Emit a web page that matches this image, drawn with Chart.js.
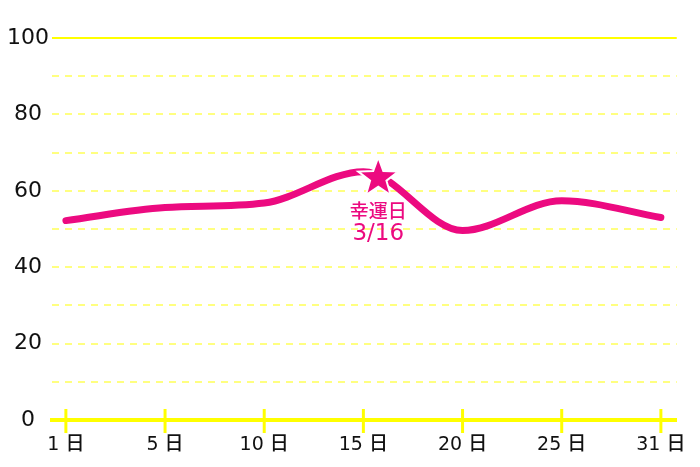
<!DOCTYPE html>
<html>
<head>
<meta charset="utf-8">
<script src="https://cdn.jsdelivr.net/npm/chart.js@4.4.1/dist/chart.umd.min.js"></script>
<style>
  html, body { margin: 0; padding: 0; background: #fff; }
  #wrap { width: 700px; height: 467px; }
</style>
</head>
<body>
<div id="wrap"><canvas id="lineChart"></canvas></div>
<script>
const dayLabels = ['1 日', '5 日', '10 日', '15 日', '20 日', '25 日', '31 日'];
const fortune = [52.2, 55.6, 56.8, 65.0, 49.6, 57.4, 53.0];
const luckyPos = [3.15];      // between 15日 and 20日 (3/16)
const luckyValue = [63.6];
const luckyText = ['幸運日', '3/16'];

const PINK = '#ec0a80';
const YELLOW = '#ffff00';
const FONT = '"DejaVu Sans", "Noto Sans CJK JP", sans-serif';

const extras = {
    id: 'extras',
    afterDatasetsDraw(chart) {
        const ctx = chart.ctx;
        const x = chart.scales.x;
        const bottom = chart.chartArea.bottom;
        ctx.save();
        // tick marks crossing the base line
        ctx.strokeStyle = YELLOW;
        ctx.lineWidth = 3;
        x.ticks.forEach(t => {
            const px = x.getPixelForValue(t.value);
            ctx.beginPath();
            ctx.moveTo(px, bottom - 11);
            ctx.lineTo(px, bottom + 13);
            ctx.stroke();
        });
        // star + label for the lucky day
        const el = chart.getDatasetMeta(0).data[0];
        if (el) {
            const r = 21;
            ctx.beginPath();
            for (let i = 0; i < 10; i++) {
                const rad = i % 2 === 0 ? r : r * 0.41;
                const a = -Math.PI / 2 + i * Math.PI / 5;
                ctx.lineTo(el.x + rad * Math.cos(a), el.y + 1 + rad * Math.sin(a));
            }
            ctx.closePath();
            ctx.fillStyle = PINK;
            ctx.fill();
            ctx.lineWidth = 2;
            ctx.strokeStyle = '#fff';
            ctx.stroke();

            ctx.textAlign = 'center';
            ctx.textBaseline = 'middle';
            ctx.font = '500 19px "Noto Sans CJK JP", sans-serif';
            ctx.fillText(luckyText[0], el.x, el.y + 34);
            ctx.font = '23px ' + FONT;
            ctx.fillText(luckyText[1], el.x, el.y + 57);
        }
        ctx.restore();
    }
};

new Chart(document.getElementById('lineChart'), {
    type: 'line',
    data: {
        datasets: [{
            label: 'lucky',
            data: luckyPos.map((p, i) => ({ x: p, y: luckyValue[i] })),
            showLine: false,
            pointRadius: 0,
            order: 0
        }, {
            label: 'fortune',
            data: fortune.map((v, i) => ({ x: i, y: v })),
            borderColor: PINK,
            borderWidth: 7,
            borderCapStyle: 'round',
            cubicInterpolationMode: 'monotone',
            pointRadius: 0,
            fill: false,
            order: 1
        }]
    },
    options: {
        responsive: true,
        maintainAspectRatio: false,
        animation: false,
        layout: { padding: { top: 38, right: 20, left: 0, bottom: 0 } },
        plugins: {
            legend: { display: false },
            tooltip: { enabled: false }
        },
        scales: {
            x: {
                type: 'linear',
                min: -0.14,
                max: 6.16,
                afterBuildTicks: s => { s.ticks = dayLabels.map((_, i) => ({ value: i })); },
                afterFit: s => { s.height = 47; },
                ticks: {
                    color: '#111',
                    font: { family: FONT, size: 19, weight: '500' },
                    padding: 14,
                    maxRotation: 0,
                    autoSkip: false,
                    callback: v => dayLabels[v]
                },
                grid: { display: false, drawTicks: false },
                border: { display: true, color: YELLOW, width: 4 }
            },
            y: {
                min: 0,
                max: 100,
                afterFit: s => { s.width = 52; },
                ticks: {
                    stepSize: 10,
                    color: '#111',
                    font: { family: FONT, size: 22 },
                    padding: 3,
                    crossAlign: 'center',
                    callback: v => (v % 20 === 0 ? String(v) : '')
                },
                grid: {
                    drawTicks: false,
                    lineWidth: 2,
                    color: c => {
                        const v = c.tick ? c.tick.value : 0;
                        if (v === 0) return 'rgba(0,0,0,0)';
                        return v === 100 ? YELLOW : '#ffff80';
                    }
                },
                border: {
                    display: false,
                    dash: c => (c.tick && c.tick.value === 100 ? [] : [7, 6])
                }
            }
        }
    },
    plugins: [extras]
});
</script>
</body>
</html>
